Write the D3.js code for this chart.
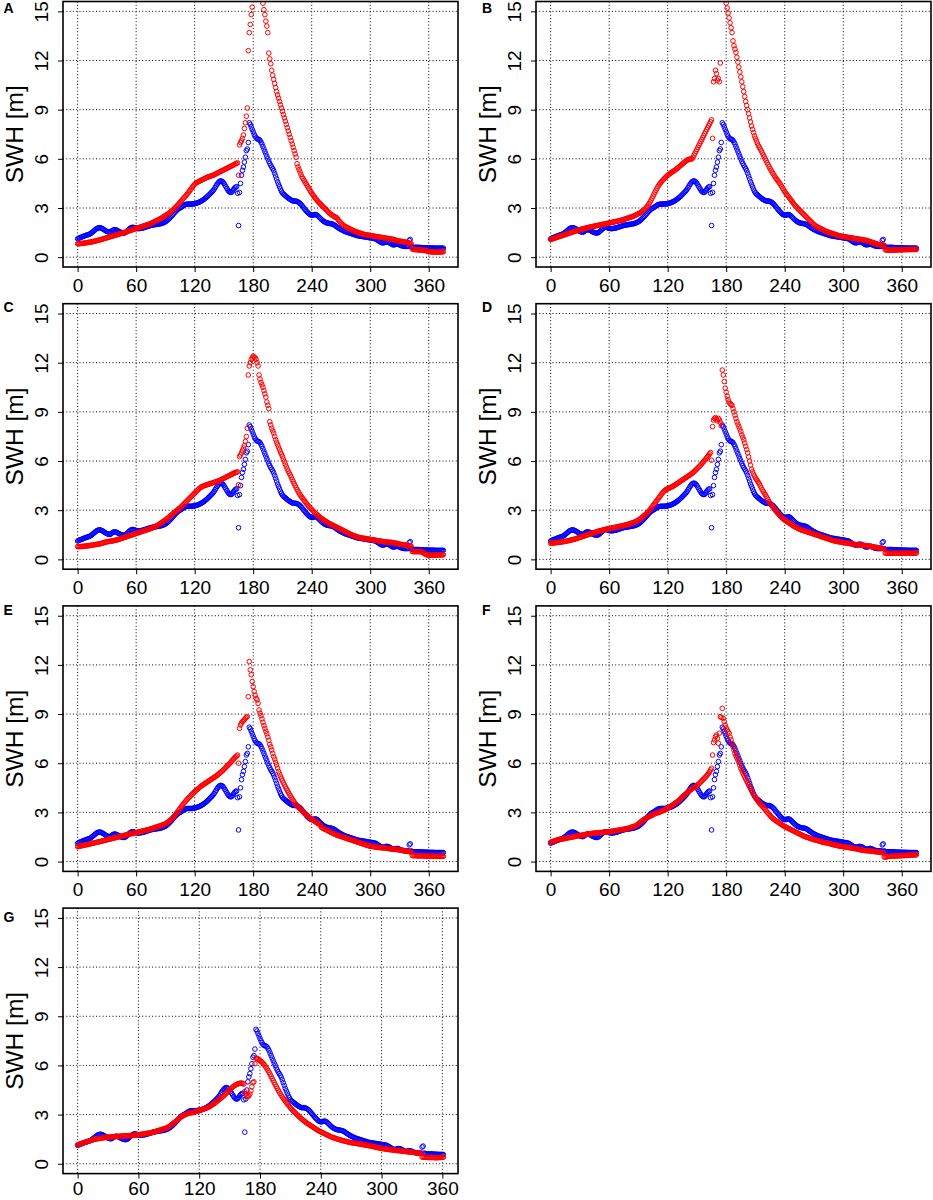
<!DOCTYPE html>
<html><head><meta charset="utf-8">
<script src="https://cdn.jsdelivr.net/npm/d3@7"></script>
<style>body{margin:0;background:#fff} svg{display:block}</style>
</head><body><svg id="c" width="933" height="1200"></svg>
<script>
const panelLabels = ["A","B","C","D","E","F","G"];
const xTicks = [0,60,120,180,240,300,360];
const yTicks = [0,3,6,9,12,15];
const yTitle = "SWH [m]";

const observed = [
1.12,1.15,1.18,1.2,1.22,1.25,1.27,1.3,1.32,1.34,
1.36,1.38,1.4,1.43,1.47,1.52,1.57,1.62,1.67,1.72,
1.76,1.78,1.8,1.8,1.78,1.75,1.72,1.68,1.64,1.6,
1.57,1.55,1.53,1.52,1.55,1.6,1.64,1.67,1.68,1.67,
1.65,1.62,1.58,1.55,1.52,1.5,1.48,1.47,1.48,1.5,
1.55,1.6,1.66,1.72,1.77,1.8,1.82,1.82,1.8,1.78,
1.76,1.75,1.74,1.74,1.75,1.76,1.77,1.78,1.8,1.82,
1.84,1.86,1.88,1.9,1.92,1.94,1.95,1.96,1.97,1.98,
1.99,2.0,2.01,2.02,2.03,2.04,2.06,2.08,2.1,2.13,
2.16,2.2,2.25,2.3,2.36,2.42,2.48,2.55,2.62,2.69,
2.76,2.82,2.88,2.93,2.97,3.0,3.04,3.08,3.12,3.16,
3.2,3.22,3.23,3.24,3.24,3.24,3.24,3.24,3.25,3.26,
3.27,3.28,3.3,3.32,3.34,3.37,3.4,3.43,3.47,3.51,
3.55,3.6,3.65,3.7,3.76,3.82,3.88,3.94,4.0,4.07,
4.15,4.25,4.35,4.45,4.53,4.6,4.64,4.65,4.63,4.58,
4.5,4.4,4.3,4.2,4.1,4.02,3.97,3.95,3.97,4.05,
4.15,4.22,4.28,4.3,3.9,1.93,3.95,4.5,5.0,5.3,
5.5,5.8,6.1,6.5,6.6,7.0,8.2,8.1,7.95,7.8,
7.65,7.5,7.38,7.28,7.22,7.2,7.18,7.12,7.02,6.9,
6.75,6.6,6.45,6.3,6.15,6.0,5.85,5.72,5.6,5.5,
5.4,5.28,5.12,4.95,4.78,4.6,4.45,4.3,4.15,4.02,
3.92,3.85,3.8,3.75,3.7,3.65,3.6,3.56,3.52,3.48,
3.45,3.43,3.42,3.42,3.42,3.4,3.37,3.33,3.28,3.22,
3.15,3.07,3.0,2.92,2.85,2.78,2.72,2.66,2.61,2.58,
2.56,2.56,2.58,2.6,2.6,2.58,2.54,2.48,2.42,2.36,
2.3,2.25,2.2,2.16,2.13,2.1,2.08,2.07,2.06,2.05,
2.04,2.02,2.0,1.97,1.93,1.88,1.84,1.8,1.76,1.72,
1.69,1.66,1.63,1.6,1.57,1.55,1.53,1.51,1.49,1.47,
1.45,1.43,1.41,1.39,1.37,1.35,1.33,1.31,1.3,1.29,
1.28,1.27,1.26,1.25,1.24,1.23,1.22,1.21,1.2,1.19,
1.18,1.17,1.16,1.15,1.14,1.13,1.1,1.06,1.02,0.98,
0.94,0.9,0.88,0.87,0.88,0.9,0.92,0.93,0.92,0.9,
0.87,0.83,0.79,0.76,0.75,0.76,0.78,0.8,0.8,0.78,
0.75,0.72,0.7,0.68,0.67,0.66,0.66,0.66,0.66,0.66,
1.02,1.08,0.65,0.62,0.6,0.6,0.6,0.6,0.6,0.6,
0.6,0.59,0.59,0.58,0.58,0.58,0.57,0.57,0.57,0.57,
0.57,0.56,0.56,0.56,0.56,0.56,0.55,0.55,0.55,0.55,
0.55,0.55,0.55,0.55,0.55,0.55];

const modelA = [
0.82,0.82,0.83,0.83,0.84,0.84,0.85,0.86,0.87,0.88,
0.89,0.9,0.91,0.92,0.93,0.94,0.95,0.97,0.98,1.0,
1.01,1.03,1.04,1.06,1.08,1.09,1.11,1.13,1.15,1.17,
1.18,1.2,1.22,1.24,1.26,1.27,1.29,1.31,1.33,1.35,
1.36,1.38,1.4,1.42,1.44,1.45,1.47,1.49,1.51,1.53,
1.55,1.57,1.59,1.61,1.63,1.65,1.67,1.69,1.71,1.73,
1.75,1.77,1.79,1.81,1.83,1.85,1.87,1.89,1.91,1.93,
1.95,1.97,1.99,2.01,2.03,2.05,2.08,2.11,2.14,2.17,
2.2,2.23,2.26,2.29,2.32,2.35,2.38,2.42,2.46,2.5,
2.54,2.58,2.62,2.66,2.7,2.75,2.8,2.85,2.9,2.96,
3.02,3.08,3.14,3.2,3.27,3.34,3.41,3.48,3.55,3.62,
3.68,3.75,3.82,3.9,3.98,4.06,4.14,4.22,4.3,4.38,
4.45,4.5,4.54,4.58,4.61,4.64,4.67,4.7,4.73,4.76,
4.79,4.82,4.85,4.88,4.9,4.92,4.94,4.96,4.98,5.0,
5.03,5.06,5.09,5.12,5.15,5.18,5.21,5.24,5.27,5.3,
5.33,5.36,5.39,5.42,5.45,5.48,5.51,5.54,5.57,5.6,
5.63,5.66,5.7,5.73,5.75,5.0,6.85,7.0,7.1,7.25,
7.45,7.85,8.2,8.6,9.1,12.6,13.7,14.2,14.8,15.25,
16.0,16.6,17.1,17.5,17.7,17.8,17.7,17.4,17.0,16.4,
15.5,15.1,14.8,14.4,14.1,13.7,12.45,12.1,11.8,11.4,
11.1,10.85,10.6,10.35,10.1,9.9,9.7,9.5,9.3,9.1,
8.9,8.7,8.5,8.3,8.1,7.9,7.7,7.5,7.3,7.1,
6.9,6.7,6.5,6.3,6.1,5.7,5.5,5.35,5.2,5.05,
4.9,4.8,4.7,4.6,4.5,4.4,4.3,4.2,4.1,4.0,
3.9,3.82,3.74,3.66,3.58,3.5,3.43,3.36,3.3,3.24,
3.18,3.12,3.06,3.0,2.94,2.88,2.82,2.76,2.7,2.65,
2.6,2.56,2.52,2.48,2.45,2.42,2.38,2.3,2.22,2.15,
2.08,2.02,1.97,1.92,1.88,1.85,1.82,1.79,1.76,1.73,
1.7,1.67,1.64,1.61,1.58,1.56,1.54,1.52,1.5,1.48,
1.46,1.44,1.42,1.4,1.38,1.37,1.36,1.35,1.34,1.33,
1.32,1.31,1.3,1.29,1.28,1.27,1.26,1.25,1.24,1.23,
1.22,1.21,1.2,1.19,1.18,1.17,1.16,1.15,1.14,1.13,
1.12,1.11,1.1,1.09,1.08,1.06,1.04,1.02,1.0,0.99,
0.98,0.97,0.96,0.95,0.94,0.93,0.92,0.91,0.9,0.88,
0.86,0.84,0.82,0.5,0.48,0.47,0.46,0.46,0.45,0.45,
0.44,0.44,0.43,0.43,0.42,0.42,0.41,0.4,0.38,0.36,
0.34,0.33,0.33,0.32,0.32,0.32,0.31,0.31,0.31,0.31,
0.31,0.31,0.32,0.32,0.33,0.33];

const modelB = [
1.08,1.1,1.12,1.14,1.16,1.18,1.2,1.22,1.24,1.26,
1.28,1.3,1.32,1.34,1.36,1.38,1.4,1.42,1.44,1.46,
1.48,1.5,1.52,1.54,1.56,1.58,1.6,1.62,1.64,1.66,
1.68,1.7,1.71,1.73,1.74,1.76,1.77,1.79,1.8,1.82,
1.83,1.84,1.86,1.87,1.88,1.9,1.91,1.92,1.93,1.95,
1.96,1.97,1.98,2.0,2.01,2.02,2.03,2.05,2.06,2.07,
2.08,2.1,2.11,2.12,2.14,2.15,2.16,2.18,2.19,2.2,
2.22,2.23,2.25,2.26,2.28,2.3,2.32,2.34,2.36,2.38,
2.4,2.42,2.44,2.46,2.48,2.5,2.53,2.56,2.59,2.62,
2.65,2.68,2.72,2.76,2.8,2.85,2.9,2.96,3.02,3.1,
3.18,3.27,3.37,3.48,3.6,3.72,3.84,3.96,4.08,4.2,
4.3,4.4,4.48,4.56,4.63,4.7,4.76,4.82,4.88,4.94,
4.99,5.04,5.09,5.13,5.17,5.21,5.25,5.29,5.33,5.38,
5.43,5.48,5.53,5.58,5.63,5.68,5.73,5.78,5.83,5.88,
5.92,5.95,5.97,5.98,5.99,6.0,6.1,6.22,6.34,6.46,
6.58,6.7,6.82,6.94,7.06,7.18,7.3,7.42,7.54,7.66,
7.78,7.9,8.02,8.14,8.26,8.38,7.25,10.7,10.9,11.4,
11.2,10.8,10.9,10.7,11.85,16.0,16.5,16.8,16.5,16.0,
15.5,15.2,14.9,14.6,14.3,14.0,13.7,13.2,12.9,12.7,
12.5,12.2,11.9,11.6,11.3,11.0,10.7,10.4,10.1,9.8,
9.5,9.25,9.0,8.75,8.5,8.25,8.0,7.8,7.6,7.4,
7.25,7.1,6.95,6.8,6.7,6.6,6.48,6.36,6.24,6.12,
6.0,5.88,5.76,5.64,5.52,5.4,5.3,5.2,5.1,5.0,
4.9,4.82,4.74,4.66,4.58,4.5,4.4,4.3,4.2,4.1,
4.0,3.92,3.84,3.76,3.68,3.6,3.52,3.44,3.36,3.28,
3.2,3.13,3.07,3.0,2.94,2.88,2.82,2.76,2.7,2.64,
2.58,2.52,2.46,2.4,2.34,2.28,2.22,2.16,2.1,2.04,
1.98,1.94,1.9,1.86,1.83,1.8,1.77,1.74,1.71,1.68,
1.65,1.62,1.59,1.56,1.54,1.52,1.5,1.48,1.46,1.44,
1.42,1.4,1.38,1.36,1.34,1.32,1.3,1.29,1.28,1.27,
1.26,1.25,1.24,1.23,1.22,1.21,1.2,1.19,1.18,1.17,
1.16,1.15,1.14,1.13,1.12,1.11,1.1,1.09,1.08,1.07,
1.06,1.05,1.04,1.03,1.02,1.0,0.98,0.96,0.94,0.92,
0.9,0.88,0.86,0.84,0.82,0.8,0.78,0.77,0.76,0.75,
0.74,0.73,0.72,0.45,0.44,0.44,0.43,0.43,0.43,0.43,
0.43,0.43,0.43,0.44,0.44,0.44,0.44,0.45,0.45,0.45,
0.45,0.45,0.46,0.46,0.46,0.46,0.46,0.47,0.47,0.47,
0.47,0.47,0.47,0.47,0.47,0.47];

const modelC = [
0.78,0.78,0.78,0.78,0.79,0.79,0.8,0.8,0.81,0.82,
0.82,0.83,0.84,0.85,0.86,0.87,0.88,0.89,0.9,0.91,
0.92,0.93,0.94,0.95,0.97,0.99,1.0,1.02,1.04,1.06,
1.07,1.08,1.09,1.1,1.11,1.12,1.13,1.14,1.16,1.17,
1.18,1.2,1.22,1.24,1.26,1.28,1.3,1.32,1.34,1.36,
1.38,1.4,1.42,1.44,1.46,1.48,1.5,1.52,1.54,1.56,
1.58,1.6,1.62,1.64,1.66,1.68,1.7,1.72,1.74,1.76,
1.78,1.8,1.82,1.84,1.86,1.88,1.9,1.93,1.96,1.99,
2.02,2.05,2.08,2.12,2.16,2.2,2.24,2.28,2.32,2.36,
2.4,2.45,2.5,2.55,2.6,2.65,2.7,2.75,2.8,2.85,
2.9,2.95,3.0,3.05,3.1,3.15,3.2,3.26,3.32,3.38,
3.44,3.5,3.56,3.62,3.68,3.74,3.8,3.86,3.92,3.98,
4.04,4.1,4.16,4.22,4.28,4.34,4.38,4.42,4.45,4.48,
4.5,4.52,4.54,4.56,4.58,4.6,4.62,4.64,4.66,4.68,
4.7,4.72,4.74,4.76,4.78,4.8,4.83,4.86,4.89,4.92,
4.95,4.98,5.01,5.04,5.07,5.1,5.13,5.16,5.19,5.22,
5.25,5.28,5.3,5.32,5.34,4.55,6.27,6.37,6.5,6.65,
6.8,6.95,7.2,7.5,8.0,11.25,11.8,12.0,12.2,12.3,
12.4,12.35,12.3,12.2,12.0,11.8,11.25,11.0,10.8,10.65,
10.5,10.3,10.1,9.9,9.6,9.4,9.2,8.4,8.2,8.0,
7.85,7.7,7.5,7.3,7.15,7.0,6.85,6.7,6.55,6.42,
6.28,6.12,5.96,5.8,5.65,5.5,5.38,5.26,5.14,5.02,
4.88,4.75,4.62,4.5,4.38,4.26,4.15,4.05,3.95,3.86,
3.78,3.7,3.62,3.54,3.46,3.38,3.31,3.24,3.17,3.1,
3.04,2.98,2.92,2.86,2.8,2.75,2.7,2.65,2.6,2.55,
2.5,2.46,2.42,2.38,2.34,2.3,2.26,2.22,2.19,2.16,
2.13,2.1,2.07,2.04,2.01,1.98,1.95,1.92,1.89,1.86,
1.83,1.8,1.77,1.74,1.71,1.68,1.65,1.62,1.59,1.56,
1.53,1.5,1.47,1.45,1.43,1.41,1.39,1.37,1.35,1.33,
1.32,1.31,1.3,1.29,1.28,1.27,1.26,1.25,1.24,1.23,
1.22,1.21,1.2,1.19,1.18,1.17,1.16,1.15,1.14,1.13,
1.12,1.11,1.1,1.09,1.08,1.07,1.06,1.06,1.05,1.05,
1.04,1.04,1.03,1.02,1.01,1.0,0.99,0.98,0.96,0.94,
0.93,0.92,0.91,0.9,0.89,0.88,0.87,0.86,0.85,0.84,
0.83,0.82,0.8,0.48,0.47,0.47,0.47,0.47,0.47,0.47,
0.47,0.47,0.46,0.45,0.42,0.38,0.33,0.3,0.28,0.27,
0.26,0.26,0.26,0.26,0.26,0.26,0.26,0.26,0.26,0.26,
0.27,0.27,0.27,0.27,0.28,0.28];

const modelD = [
0.98,0.99,1.0,1.0,1.01,1.02,1.02,1.03,1.04,1.04,
1.05,1.06,1.07,1.08,1.09,1.1,1.11,1.12,1.14,1.15,
1.16,1.18,1.19,1.21,1.22,1.24,1.26,1.28,1.3,1.32,
1.34,1.36,1.38,1.4,1.42,1.44,1.46,1.48,1.5,1.52,
1.54,1.56,1.58,1.6,1.62,1.64,1.66,1.68,1.7,1.72,
1.73,1.75,1.76,1.78,1.79,1.81,1.82,1.84,1.85,1.87,
1.88,1.89,1.9,1.92,1.93,1.94,1.95,1.97,1.98,1.99,
2.0,2.02,2.03,2.04,2.05,2.07,2.08,2.1,2.11,2.13,
2.15,2.17,2.19,2.21,2.23,2.25,2.27,2.3,2.33,2.36,
2.4,2.44,2.48,2.53,2.58,2.63,2.68,2.73,2.78,2.84,
2.9,2.97,3.04,3.12,3.2,3.28,3.36,3.44,3.52,3.6,
3.68,3.76,3.84,3.92,4.0,4.08,4.14,4.2,4.25,4.28,
4.3,4.33,4.36,4.39,4.42,4.45,4.48,4.52,4.56,4.6,
4.64,4.68,4.72,4.76,4.8,4.84,4.88,4.92,4.96,5.0,
5.04,5.08,5.12,5.16,5.2,5.25,5.3,5.35,5.4,5.46,
5.52,5.58,5.64,5.7,5.77,5.84,5.91,5.98,6.05,6.12,
6.2,6.28,6.36,6.44,6.52,6.05,8.1,8.5,8.6,8.65,
8.55,8.45,8.6,8.5,8.35,8.15,11.55,11.25,10.85,10.45,
10.2,9.95,9.75,9.6,9.5,9.45,9.4,9.2,9.0,8.8,
8.6,8.4,8.25,8.1,7.95,7.8,7.6,7.45,7.3,7.1,
6.9,6.7,6.5,6.25,6.0,5.75,5.5,5.35,5.2,5.08,
4.97,4.88,4.79,4.7,4.6,4.48,4.36,4.24,4.14,4.04,
3.96,3.85,3.74,3.63,3.52,3.42,3.34,3.26,3.18,3.1,
3.02,2.95,2.88,2.81,2.74,2.67,2.6,2.55,2.5,2.45,
2.4,2.36,2.32,2.28,2.24,2.2,2.16,2.12,2.08,2.04,
2.0,1.97,1.94,1.91,1.88,1.85,1.82,1.8,1.78,1.76,
1.74,1.72,1.7,1.68,1.66,1.64,1.62,1.6,1.58,1.56,
1.54,1.52,1.5,1.48,1.46,1.44,1.42,1.4,1.38,1.36,
1.34,1.32,1.3,1.28,1.26,1.24,1.22,1.2,1.18,1.16,
1.14,1.13,1.12,1.1,1.09,1.08,1.07,1.06,1.05,1.04,
1.03,1.02,1.01,1.0,0.99,0.98,0.97,0.96,0.95,0.94,
0.93,0.92,0.91,0.9,0.9,0.89,0.88,0.88,0.87,0.86,
0.86,0.85,0.85,0.84,0.83,0.82,0.81,0.8,0.79,0.78,
0.77,0.76,0.75,0.74,0.73,0.72,0.71,0.7,0.69,0.68,
0.67,0.66,0.65,0.38,0.37,0.37,0.37,0.37,0.37,0.37,
0.37,0.37,0.37,0.37,0.37,0.37,0.37,0.37,0.37,0.37,
0.37,0.37,0.37,0.38,0.38,0.38,0.38,0.38,0.38,0.38,
0.38,0.38,0.38,0.38,0.38,0.38];

const modelE = [
0.91,0.92,0.94,0.95,0.96,0.98,0.99,1.0,1.02,1.03,
1.04,1.06,1.07,1.08,1.1,1.11,1.12,1.14,1.15,1.17,
1.18,1.19,1.21,1.22,1.24,1.25,1.27,1.28,1.3,1.31,
1.33,1.34,1.36,1.37,1.39,1.4,1.42,1.43,1.45,1.46,
1.48,1.49,1.51,1.52,1.54,1.55,1.57,1.58,1.6,1.61,
1.63,1.64,1.66,1.67,1.69,1.7,1.71,1.73,1.74,1.76,
1.77,1.78,1.8,1.81,1.83,1.84,1.86,1.87,1.89,1.9,
1.91,1.93,1.94,1.96,1.97,1.99,2.01,2.03,2.05,2.07,
2.09,2.11,2.13,2.15,2.17,2.19,2.21,2.23,2.25,2.28,
2.31,2.35,2.39,2.43,2.48,2.53,2.58,2.64,2.7,2.77,
2.84,2.92,3.0,3.08,3.16,3.24,3.32,3.4,3.48,3.56,
3.63,3.7,3.77,3.84,3.9,3.96,4.02,4.08,4.14,4.2,
4.26,4.32,4.37,4.42,4.47,4.52,4.57,4.62,4.66,4.7,
4.74,4.78,4.82,4.86,4.9,4.94,4.98,5.02,5.06,5.1,
5.14,5.18,5.22,5.26,5.31,5.36,5.41,5.46,5.51,5.57,
5.63,5.69,5.75,5.81,5.87,5.93,5.99,6.06,6.13,6.2,
6.27,6.33,6.39,6.44,6.5,6.0,8.13,8.33,8.45,8.54,
8.6,8.66,8.74,8.8,8.84,10.06,12.2,11.7,11.4,10.98,
10.67,10.37,10.15,9.96,9.86,9.65,9.25,9.05,8.9,8.7,
8.5,8.3,8.13,7.95,7.8,7.6,7.4,7.15,7.0,6.8,
6.6,6.4,6.25,6.05,5.9,5.7,5.5,5.35,5.2,5.05,
4.93,4.8,4.68,4.56,4.45,4.34,4.23,4.12,4.02,3.92,
3.82,3.73,3.64,3.55,3.47,3.4,3.34,3.28,3.22,3.16,
3.1,3.04,2.98,2.93,2.88,2.83,2.78,2.73,2.68,2.63,
2.58,2.54,2.5,2.46,2.42,2.38,2.34,2.3,2.26,2.22,
2.08,2.05,2.02,1.99,1.96,1.93,1.9,1.87,1.84,1.81,
1.78,1.75,1.72,1.69,1.66,1.63,1.61,1.59,1.57,1.55,
1.53,1.51,1.49,1.47,1.45,1.43,1.41,1.39,1.37,1.35,
1.33,1.31,1.29,1.27,1.25,1.23,1.21,1.19,1.17,1.15,
1.13,1.11,1.09,1.07,1.05,1.03,1.01,0.99,0.97,0.95,
0.94,0.93,0.92,0.91,0.9,0.89,0.88,0.87,0.86,0.86,
0.85,0.85,0.84,0.84,0.83,0.83,0.82,0.81,0.8,0.79,
0.78,0.78,0.77,0.77,0.76,0.76,0.75,0.74,0.73,0.72,
0.71,0.7,0.69,0.68,0.67,0.66,0.65,0.64,0.63,0.62,
0.61,0.6,0.59,0.37,0.36,0.36,0.36,0.35,0.35,0.35,
0.35,0.35,0.35,0.35,0.34,0.34,0.34,0.34,0.34,0.33,
0.33,0.33,0.33,0.33,0.33,0.33,0.32,0.32,0.32,0.32,
0.32,0.32,0.32,0.32,0.32,0.32];

const modelF = [
1.18,1.2,1.22,1.24,1.26,1.28,1.3,1.32,1.34,1.35,
1.36,1.37,1.38,1.39,1.4,1.41,1.43,1.44,1.45,1.46,
1.47,1.48,1.5,1.51,1.52,1.53,1.55,1.56,1.57,1.58,
1.59,1.6,1.61,1.62,1.63,1.64,1.65,1.66,1.67,1.68,
1.69,1.7,1.71,1.72,1.73,1.74,1.74,1.75,1.75,1.76,
1.76,1.77,1.77,1.78,1.78,1.79,1.79,1.8,1.8,1.81,
1.82,1.83,1.84,1.85,1.86,1.87,1.88,1.89,1.9,1.91,
1.92,1.93,1.94,1.95,1.96,1.97,1.98,1.99,2.0,2.02,
2.04,2.06,2.08,2.1,2.12,2.14,2.16,2.18,2.21,2.25,
2.3,2.35,2.4,2.45,2.5,2.54,2.58,2.62,2.65,2.68,
2.71,2.74,2.77,2.8,2.83,2.86,2.89,2.92,2.95,2.97,
2.98,3.0,3.02,3.05,3.08,3.1,3.13,3.16,3.19,3.22,
3.25,3.29,3.33,3.37,3.41,3.45,3.49,3.53,3.58,3.62,
3.66,3.71,3.76,3.82,3.88,3.94,4.0,4.05,4.1,4.15,
4.2,4.25,4.3,4.35,4.4,4.44,4.48,4.52,4.56,4.6,
4.64,4.69,4.74,4.8,4.86,4.92,4.98,5.04,5.1,5.17,
5.24,5.31,5.39,5.48,5.59,5.69,6.5,7.26,7.42,7.62,
7.72,7.52,7.22,7.83,8.84,8.8,9.35,8.74,8.54,8.33,
8.15,8.03,7.92,7.83,7.6,7.42,7.2,7.01,6.8,6.6,
6.46,6.32,6.2,6.05,5.87,5.69,5.56,5.42,5.28,5.16,
5.04,4.92,4.8,4.68,4.56,4.45,4.33,4.21,4.1,4.0,
3.9,3.82,3.74,3.66,3.58,3.5,3.44,3.38,3.31,3.25,
3.18,3.1,3.02,2.95,2.88,2.81,2.74,2.68,2.63,2.58,
2.53,2.49,2.45,2.41,2.37,2.33,2.29,2.25,2.21,2.17,
2.14,2.11,2.08,2.05,2.02,1.99,1.96,1.93,1.9,1.87,
1.84,1.81,1.78,1.75,1.72,1.69,1.66,1.63,1.6,1.57,
1.54,1.52,1.5,1.48,1.46,1.44,1.42,1.4,1.38,1.36,
1.34,1.32,1.31,1.29,1.28,1.26,1.24,1.22,1.2,1.18,
1.17,1.16,1.15,1.14,1.13,1.12,1.1,1.08,1.06,1.04,
1.03,1.02,1.0,0.99,0.98,0.96,0.95,0.94,0.93,0.92,
0.91,0.9,0.89,0.88,0.87,0.86,0.85,0.84,0.83,0.82,
0.81,0.8,0.79,0.78,0.77,0.76,0.75,0.73,0.71,0.7,
0.69,0.68,0.67,0.67,0.66,0.66,0.65,0.65,0.64,0.64,
0.63,0.62,0.61,0.6,0.6,0.59,0.58,0.57,0.56,0.55,
0.55,0.54,0.28,0.27,0.28,0.3,0.31,0.32,0.32,0.33,
0.33,0.33,0.34,0.34,0.34,0.35,0.35,0.35,0.35,0.36,
0.36,0.36,0.37,0.37,0.37,0.38,0.38,0.38,0.39,0.39,
0.39,0.4,0.4,0.4,0.41,0.41];

const modelG = [
1.16,1.18,1.2,1.22,1.24,1.26,1.28,1.3,1.32,1.34,
1.36,1.38,1.4,1.42,1.44,1.46,1.48,1.5,1.51,1.52,
1.53,1.54,1.55,1.56,1.57,1.58,1.59,1.6,1.61,1.62,
1.62,1.63,1.63,1.64,1.64,1.65,1.65,1.66,1.66,1.67,
1.67,1.68,1.68,1.69,1.69,1.7,1.7,1.7,1.71,1.71,
1.71,1.72,1.72,1.72,1.73,1.73,1.74,1.74,1.75,1.76,
1.77,1.78,1.79,1.8,1.81,1.82,1.83,1.84,1.85,1.86,
1.87,1.88,1.89,1.9,1.91,1.93,1.95,1.97,1.99,2.01,
2.03,2.05,2.07,2.09,2.11,2.13,2.15,2.17,2.19,2.22,
2.26,2.3,2.35,2.4,2.45,2.5,2.55,2.6,2.65,2.7,
2.75,2.8,2.85,2.89,2.93,2.96,2.99,3.02,3.05,3.07,
3.09,3.1,3.11,3.12,3.13,3.15,3.17,3.19,3.21,3.23,
3.25,3.27,3.29,3.31,3.33,3.35,3.37,3.39,3.42,3.45,
3.48,3.52,3.56,3.6,3.64,3.68,3.73,3.78,3.83,3.88,
3.93,3.98,4.03,4.08,4.14,4.2,4.26,4.32,4.38,4.44,
4.5,4.56,4.62,4.68,4.73,4.77,4.81,4.84,4.87,4.89,
4.91,4.92,4.92,4.9,4.86,4.4,4.25,4.15,4.1,4.15,
4.25,4.45,4.7,4.96,5.0,6.1,6.44,6.44,6.38,6.34,
6.3,6.25,6.2,6.14,6.06,5.97,5.88,5.78,5.68,5.58,
5.46,5.33,5.2,5.08,4.96,4.84,4.72,4.6,4.48,4.38,
4.28,4.18,4.08,3.99,3.9,3.82,3.74,3.66,3.58,3.5,
3.42,3.35,3.28,3.21,3.15,3.09,3.03,2.97,2.91,2.85,
2.79,2.74,2.69,2.64,2.59,2.54,2.49,2.45,2.41,2.37,
2.33,2.29,2.25,2.21,2.17,2.13,2.09,2.05,2.01,1.98,
1.95,1.92,1.89,1.86,1.83,1.8,1.77,1.74,1.71,1.68,
1.65,1.62,1.6,1.58,1.56,1.54,1.52,1.5,1.48,1.46,
1.44,1.42,1.41,1.39,1.38,1.36,1.35,1.33,1.32,1.3,
1.29,1.28,1.27,1.26,1.25,1.24,1.23,1.22,1.21,1.2,
1.19,1.18,1.17,1.15,1.14,1.13,1.12,1.11,1.1,1.09,
1.07,1.06,1.05,1.03,1.02,1.0,0.99,0.98,0.96,0.95,
0.94,0.93,0.92,0.91,0.9,0.89,0.88,0.87,0.86,0.86,
0.85,0.84,0.83,0.83,0.82,0.81,0.8,0.8,0.79,0.78,
0.77,0.77,0.76,0.75,0.75,0.74,0.73,0.72,0.72,0.71,
0.7,0.69,0.69,0.68,0.67,0.66,0.66,0.65,0.64,0.64,
0.41,0.4,0.4,0.39,0.39,0.39,0.38,0.38,0.38,0.38,
0.38,0.38,0.38,0.37,0.37,0.37,0.38,0.38,0.38,0.39,
0.39,0.4];

const models = [modelA, modelB, modelC, modelD, modelE, modelF, modelG];

// ---- layout (pixels) ----
const colLeft = [63, 536];
const rowTop = [1.5, 303.7, 605.9, 908.1];
const W = 395, H = 265.5;
const letterBase = [13.3, 312, 615, 921.7];
const letterX = [3.5, 482];
const FONT = "'Liberation Sans', Arial, Helvetica, sans-serif";

const svg = d3.select("#c");
svg.append("rect").attr("width", 933).attr("height", 1200).attr("fill", "#fff");

panelLabels.forEach((lab, i) => {
  const col = i % 2, row = Math.floor(i / 2);
  const L = colLeft[col], T = rowTop[row];
  const red = models[i];
  const n = red.length;
  const blue = observed.slice(0, n);
  const xmax = n - 1, pad = xmax * 0.04;
  const x = d3.scaleLinear().domain([-pad, xmax + pad]).range([L, L + W]);
  const y = d3.scaleLinear().domain([-0.6, 15.6]).range([T + H, T]);

  const g = svg.append("g");
  const clipId = "clip" + i;
  g.append("clipPath").attr("id", clipId)
    .append("rect").attr("x", L).attr("y", T).attr("width", W).attr("height", H);

  // grid
  const grid = g.append("g").attr("stroke", "#000").attr("stroke-width", 1)
    .attr("stroke-dasharray", "1,2.3");
  grid.selectAll("line.v").data(xTicks).join("line").attr("class", "v")
    .attr("x1", d => x(d)).attr("x2", d => x(d)).attr("y1", T).attr("y2", T + H);
  grid.selectAll("line.h").data(yTicks).join("line").attr("class", "h")
    .attr("x1", L).attr("x2", L + W).attr("y1", d => y(d)).attr("y2", d => y(d));

  const pts = g.append("g").attr("clip-path", `url(#${clipId})`).attr("fill", "none").attr("stroke-width", 1);
  pts.append("g").attr("stroke", "#0000ff").selectAll("circle").data(blue).join("circle")
    .attr("cx", (d, k) => x(k)).attr("cy", d => y(d)).attr("r", 2.3);
  pts.append("g").attr("stroke", "#ff0000").selectAll("circle").data(red).join("circle")
    .attr("cx", (d, k) => x(k)).attr("cy", d => y(d)).attr("r", 2.3);

  // box
  g.append("rect").attr("x", L).attr("y", T).attr("width", W).attr("height", H)
    .attr("fill", "none").attr("stroke", "#000").attr("stroke-width", 1.6);

  // x axis
  const labelOff = Math.min(24.8, 1195.5 - (T + H));
  const xa = g.append("g").attr("transform", `translate(0,${T + H})`)
    .call(d3.axisBottom(x).tickValues(xTicks).tickSize(5).tickFormat(d3.format("d")));
  xa.select(".domain").remove();
  xa.selectAll("line").attr("stroke", "#000");
  xa.selectAll("text").attr("y", labelOff).attr("dy", 0)
    .style("font-family", FONT).style("font-size", "19px").attr("fill", "#000");

  // y axis
  const ya = g.append("g").attr("transform", `translate(${L},0)`)
    .call(d3.axisLeft(y).tickValues(yTicks).tickSize(5).tickFormat(d3.format("d")));
  ya.select(".domain").remove();
  ya.selectAll("line").attr("stroke", "#000");
  ya.selectAll("text").attr("x", 0).attr("y", 0).attr("dy", 0)
    .attr("text-anchor", "middle").attr("transform", "translate(-15,0) rotate(-90)")
    .style("font-family", FONT).style("font-size", "19px").attr("fill", "#000");

  // y title
  g.append("text").attr("transform", `translate(${L - 40.5},${T + H / 2}) rotate(-90)`)
    .attr("text-anchor", "middle").style("font-family", FONT).style("font-size", "24.5px")
    .attr("fill", "#000").text(yTitle);

  // panel letter
  g.append("text").attr("x", letterX[col]).attr("y", letterBase[row])
    .style("font-family", FONT).style("font-size", "14px").style("font-weight", "bold")
    .attr("fill", "#000").text(lab);
});
</script>
</body></html>
